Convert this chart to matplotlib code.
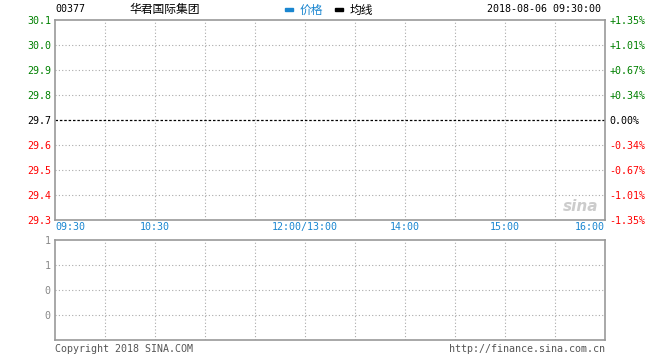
import matplotlib
matplotlib.use("Agg")
import matplotlib.pyplot as plt
import matplotlib.transforms as mtrans

plt.rcParams['font.family'] = ['DejaVu Sans Mono', 'Noto Sans CJK SC']

# Data
code = "00377"
name = "华君国际集团"
stamp = "2018-08-06 09:30:00"
prev_close = 29.7
price_ticks = [30.1, 30.0, 29.9, 29.8, 29.7, 29.6, 29.5, 29.4, 29.3]
pct_labels = ["+1.35%", "+1.01%", "+0.67%", "+0.34%", "0.00%",
              "-0.34%", "-0.67%", "-1.01%", "-1.35%"]
time_labels = ["09:30", "10:30", "12:00/13:00", "14:00", "15:00", "16:00"]
time_pos = [0, 60, 150, 210, 270, 330]   # trading minutes from open
grid_minutes = list(range(30, 330, 30))
vol_ticks = [4, 3, 2, 1]
vol_labels = ["1", "1", "0", "0"]

W, H = 660, 360
GREEN, RED, BLUE, GREY = "#008000", "#ff0000", "#1a86d0", "#999999"
fs = 7.2

fig = plt.figure(figsize=(W / 100, H / 100), dpi=100)

def box(x0, y0, x1, y1):
    return [x0 / W, 1 - y1 / H, (x1 - x0) / W, (y1 - y0) / H]

# main price panel
ax = fig.add_axes(box(55, 20, 605, 220))
ax.set_xlim(0, 330)
ax.set_ylim(29.3, 30.1)
for s in ax.spines.values():
    s.set_color(GREY)
    s.set_linewidth(1.2)
for m in grid_minutes:
    ax.axvline(m, color="#aaaaaa", lw=0.8, ls=(0, (1, 2)))
for p in price_ticks[1:-1]:
    if p != prev_close:
        ax.axhline(p, color="#aaaaaa", lw=0.8, ls=(0, (1, 2)))
ax.axhline(prev_close, color="black", lw=0.9, ls=(0, (2, 1.5)))
ax.set_xticks([])
ax.set_yticks(price_ticks)
ax.set_yticklabels([f"{p:.1f}" for p in price_ticks], fontsize=fs)
ax.tick_params(axis="y", length=0, pad=3)
for p, lab in zip(price_ticks, ax.get_yticklabels()):
    lab.set_color(GREEN if p > prev_close else (RED if p < prev_close else "black"))

ax2 = ax.twinx()
ax2.set_ylim(29.3, 30.1)
ax2.set_yticks(price_ticks)
ax2.set_yticklabels(pct_labels, fontsize=fs)
ax2.tick_params(axis="y", length=0, pad=3)
for s in ax2.spines.values():
    s.set_visible(False)
for p, lab in zip(price_ticks, ax2.get_yticklabels()):
    lab.set_color(GREEN if p > prev_close else (RED if p < prev_close else "black"))

# time labels under main panel
tr = mtrans.blended_transform_factory(ax.transData, fig.transFigure)
for i, (t, lab) in enumerate(zip(time_pos, time_labels)):
    ha = "left" if i == 0 else ("right" if i == len(time_pos) - 1 else "center")
    ax.text(t, 1 - 227 / H, lab, transform=tr, ha=ha, va="center",
            color=BLUE, fontsize=fs)

# faint sina watermark
ax.text(0.955, 0.07, "sina", transform=ax.transAxes, ha="center", va="center",
        fontsize=11, fontstyle="italic", fontweight="bold", color="#cccccc",
        family="DejaVu Sans")

# volume panel
bx = fig.add_axes(box(55, 240, 605, 340))
bx.set_xlim(0, 330)
bx.set_ylim(0, 4)
for s in bx.spines.values():
    s.set_color(GREY)
    s.set_linewidth(1.2)
for m in grid_minutes:
    bx.axvline(m, color="#aaaaaa", lw=0.8, ls=(0, (1, 2)))
for v in vol_ticks[1:]:
    bx.axhline(v, color="#aaaaaa", lw=0.8, ls=(0, (1, 2)))
bx.set_xticks([])
bx.set_yticks(vol_ticks)
bx.set_yticklabels(vol_labels, fontsize=fs, color="#888888")
bx.tick_params(axis="y", length=0, pad=3)

# header
def ftxt(x, y, s, **kw):
    fig.text(x / W, 1 - y / H, s, va="center", **kw)

ftxt(55, 9, code, fontsize=fs, color="black")
ftxt(129, 10, name, fontsize=8.5, color="black", family=["Noto Sans CJK SC"])
fig.patches.append(plt.Rectangle((285 / W, 1 - 11 / H), 8 / W, 3 / H,
                                 transform=fig.transFigure, color=BLUE))
ftxt(300, 10, "价格", fontsize=8.5, color=BLUE, family=["Noto Sans CJK SC"])
fig.patches.append(plt.Rectangle((335 / W, 1 - 11 / H), 8 / W, 3 / H,
                                 transform=fig.transFigure, color="black"))
ftxt(350, 10, "均线", fontsize=8.5, color="black", family=["Noto Sans CJK SC"])
fig.text(601 / W, 1 - 9 / H, stamp, ha="right", va="center", fontsize=fs)

# footer
ftxt(55, 349, "Copyright 2018 SINA.COM", fontsize=fs, color="#555555")
fig.text(605 / W, 1 - 349 / H, "http://finance.sina.com.cn", ha="right",
         va="center", fontsize=fs, color="#555555")

fig.savefig("out.png", dpi=100)
